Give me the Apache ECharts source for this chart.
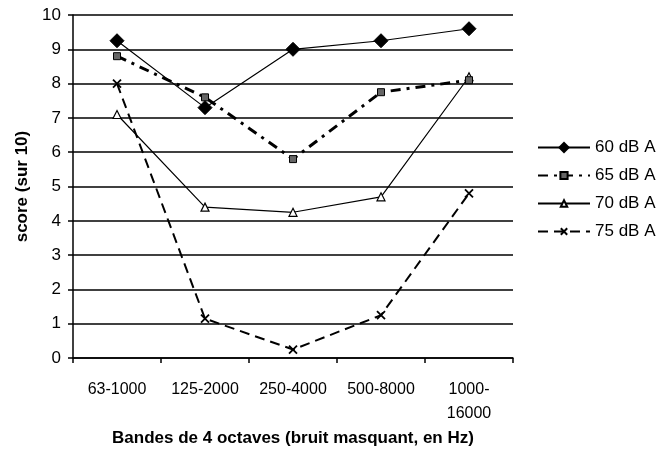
<!DOCTYPE html>
<html>
<head>
<meta charset="utf-8">
<script src="https://cdn.jsdelivr.net/npm/echarts@6/dist/echarts.min.js"></script>
<style>
  html, body { margin: 0; padding: 0; background: #fff; }
  #chart { width: 659px; height: 452px; }
</style>
</head>
<body>
<div id="chart"></div>
<script>
const categories = ["63-1000", "125-2000", "250-4000", "500-8000", "1000-\n16000"];
const seriesNames = ["60 dB A", "65 dB A", "70 dB A", "75 dB A"];
const db60 = [9.25, 7.3, 9.0, 9.25, 9.6];
const db65 = [8.8, 7.6, 5.8, 7.75, 8.1];
const db70 = [7.1, 4.4, 4.25, 4.7, 8.2];
const db75 = [8.0, 1.15, 0.25, 1.25, 4.8];
const yTicks = [0, 1, 2, 3, 4, 5, 6, 7, 8, 9, 10];

const font = "Liberation Sans, Arial, sans-serif";
const chart = echarts.init(document.getElementById("chart"));

// one legend per series so each legend icon can get its own symbol size
const legendRows = [144, 172, 200, 228];
const legendIconH = [15, 9, 8, 8];
const legends = seriesNames.map((name, i) => ({
  orient: "vertical",
  left: 532,
  top: legendRows[i] - 10,
  itemWidth: 52,
  itemHeight: legendIconH[i],
  textStyle: { fontSize: 17, color: "#000", fontFamily: font },
  data: [name],
}));

chart.setOption({
  animation: false,
  backgroundColor: "#fff",
  textStyle: { fontFamily: font, color: "#000" },
  legend: legends,
  grid: { left: 73, right: 146, top: 15, bottom: 93 },
  xAxis: {
    type: "category",
    data: categories,
    boundaryGap: true,
    name: "Bandes de 4 octaves (bruit masquant, en Hz)",
    nameLocation: "middle",
    nameGap: 69,
    nameTextStyle: { fontSize: 17, fontWeight: "bold", color: "#000", fontFamily: font },
    axisLine: { lineStyle: { color: "#000", width: 1.5 } },
    axisTick: { show: true, alignWithLabel: false, length: 5, lineStyle: { color: "#000", width: 1.5 } },
    axisLabel: { fontSize: 16, color: "#000", margin: 19, lineHeight: 24, fontFamily: font },
  },
  yAxis: {
    type: "value",
    min: yTicks[0],
    max: yTicks[yTicks.length - 1],
    interval: 1,
    name: "score (sur 10)",
    nameLocation: "middle",
    nameRotate: 90,
    nameGap: 40,
    nameTextStyle: { fontSize: 17, fontWeight: "bold", color: "#000", fontFamily: font },
    axisLine: { show: true, lineStyle: { color: "#000", width: 1.5 } },
    axisTick: { show: true, inside: false, length: 5, lineStyle: { color: "#000", width: 1.5 } },
    axisLabel: { fontSize: 17, color: "#000", margin: 12, fontFamily: font },
    splitLine: { show: true, lineStyle: { color: "#000", width: 1.5 } },
  },
  series: [
    {
      name: seriesNames[0],
      type: "line",
      data: db60,
      symbol: "diamond",
      symbolSize: 14,
      itemStyle: { color: "#000", borderColor: "#000" },
      lineStyle: { color: "#000", width: 1.2 },
      z: 4,
    },
    {
      name: seriesNames[1],
      type: "line",
      data: db65,
      symbol: "rect",
      symbolSize: 7,
      itemStyle: { color: "#666", borderColor: "#000", borderWidth: 1 },
      lineStyle: { color: "#000", width: 3, type: [10, 6, 3, 6] },
      z: 3,
    },
    {
      name: seriesNames[2],
      type: "line",
      data: db70,
      symbol: "triangle",
      symbolSize: 8,
      itemStyle: { color: "#fff", borderColor: "#000", borderWidth: 1.2 },
      lineStyle: { color: "#000", width: 1.2 },
      z: 2,
    },
    {
      name: seriesNames[3],
      type: "line",
      data: db75,
      symbol: "path://M0,0L10,10M10,0L0,10",
      symbolSize: 8,
      itemStyle: { color: "none", borderColor: "#000", borderWidth: 1.8 },
      lineStyle: { color: "#000", width: 2, type: [10, 6] },
      z: 1,
    },
  ],
});
</script>
</body>
</html>
